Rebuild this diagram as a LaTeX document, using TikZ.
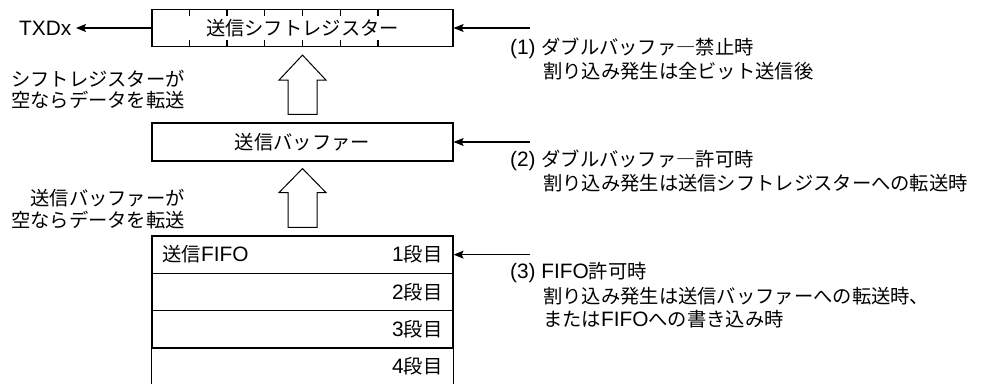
\documentclass[tikz,border=0pt]{standalone}
\usepackage{fontspec}
\setmainfont{Liberation Sans}[Scale=1.08]
\newfontfamily\jp{Noto Sans CJK JP}
\usetikzlibrary{arrows.meta,calc}
\newcommand\fs{\fontsize{19.3}{21.5}\selectfont}
\begin{document}
\begin{tikzpicture}[x=1pt,y=-1pt,font=\fs,
  box/.style={draw, line width=1.2pt, minimum width=301pt, minimum height=37.3pt, inner sep=0pt},
  arr/.style={line width=1.1pt, -{Stealth[length=10pt,width=8pt,inset=2pt]}},
  hollow/.style={draw, line width=1pt, fill=white, line join=miter},
  lbl/.style={inner sep=0pt},
  jpf/.style={font=\jp\fs}]
\useasboundingbox (0,0) rectangle (981,385);

% shift register
\node[box, minimum height=37pt, jpf] (sr) at (302.5,28) {送信シフトレジスター};
\foreach \k in {1,...,6} {
  \draw[line width=1.2pt] ($(sr.north west)!\k/8!(sr.north east)$) -- ++(0,7);
  \draw[line width=1.2pt] ($(sr.south west)!\k/8!(sr.south east)$) -- ++(0,-7);
}
\node[lbl, anchor=east, inner xsep=4.5pt] (txd) at (76,28) {TXDx};
\draw[arr] (sr) -- (txd);
\coordinate (c1) at (530,28);
\draw[arr] (c1) -- (sr.east);
\node[lbl, anchor=west] (t1a) at (510,48) {(1) {\jp ダブルバッファ―禁止時}};
\node[lbl, anchor=west, jpf] (t1b) at (543,71) {割り込み発生は全ビット送信後};

% buffer
\node[box, minimum height=38pt, jpf] (buf) at (302.5,142) {送信バッファー};
\coordinate (c2) at (530,142);
\draw[arr] (c2) -- (buf.east);
\node[lbl, anchor=west] (t2a) at (510,160) {(2) {\jp ダブルバッファ―許可時}};
\node[lbl, anchor=west, jpf] (t2b) at (543,183) {割り込み発生は送信シフトレジスターへの転送時};

% left labels
\node[lbl, anchor=east, align=right, jpf] (l1) at (185,89.5) {シフトレジスターが\\空ならデータを転送};
\node[lbl, anchor=east, align=right, jpf] (l2) at (185,209) {送信バッファーが\\空ならデータを転送};

% hollow arrow 1
\path (sr.south) ++(0,8) coordinate (h1t);
\path (buf.north) ++(0,-8) coordinate (h1b);
\draw[hollow] (h1t) -- ($(h1t)+(23.5,25)$) -- ($(h1t)+(14.5,25)$) -- ($(h1b)+(14.5,0)$)
  -- ($(h1b)+(-14.5,0)$) -- ($(h1t)+(-14.5,25)$) -- ($(h1t)+(-23.5,25)$) -- cycle;

% FIFO
\node[box] (f1) at (302.5,254.65) {};
\node[box] (f2) at (302.5,291.95) {};
\node[box] (f3) at (302.5,329.25) {};
\node[box, draw=none] (f4) at (302.5,366.55) {};
\draw[line width=1.2pt] ([yshift=2pt]f4.south west) -- (f4.north west) -- (f4.north east) -- ([yshift=2pt]f4.south east);
\node[lbl, anchor=west] (fl) at ($(f1.west)+(11,0)$) {{\jp 送信}FIFO};
\node[lbl, anchor=east] (g1) at ($(f1.east)+(-11,0)$) {1{\jp 段目}};
\node[lbl, anchor=east] (g2) at ($(f2.east)+(-11,0)$) {2{\jp 段目}};
\node[lbl, anchor=east] (g3) at ($(f3.east)+(-11,0)$) {3{\jp 段目}};
\node[lbl, anchor=east] (g4) at ($(f4.east)+(-11,0)$) {4{\jp 段目}};
\coordinate (c3) at (530,254.65);
\draw[arr] (c3) -- (f1.east);
\node[lbl, anchor=west] (t3a) at (510,273) {(3) FIFO{\jp 許可時}};
\node[lbl, anchor=west, jpf] (t3b) at (543,296) {割り込み発生は送信バッファーへの転送時、};
\node[lbl, anchor=west] (t3c) at (543,319) {{\jp または}FIFO{\jp への書き込み時}};

% hollow arrow 2
\path (buf.south) ++(0,7) coordinate (h2t);
\path (f1.north) ++(0,-8) coordinate (h2b);
\draw[hollow] (h2t) -- ($(h2t)+(23.5,24)$) -- ($(h2t)+(14.5,24)$) -- ($(h2b)+(14.5,0)$)
  -- ($(h2b)+(-14.5,0)$) -- ($(h2t)+(-14.5,24)$) -- ($(h2t)+(-23.5,24)$) -- cycle;
\end{tikzpicture}
\end{document}
